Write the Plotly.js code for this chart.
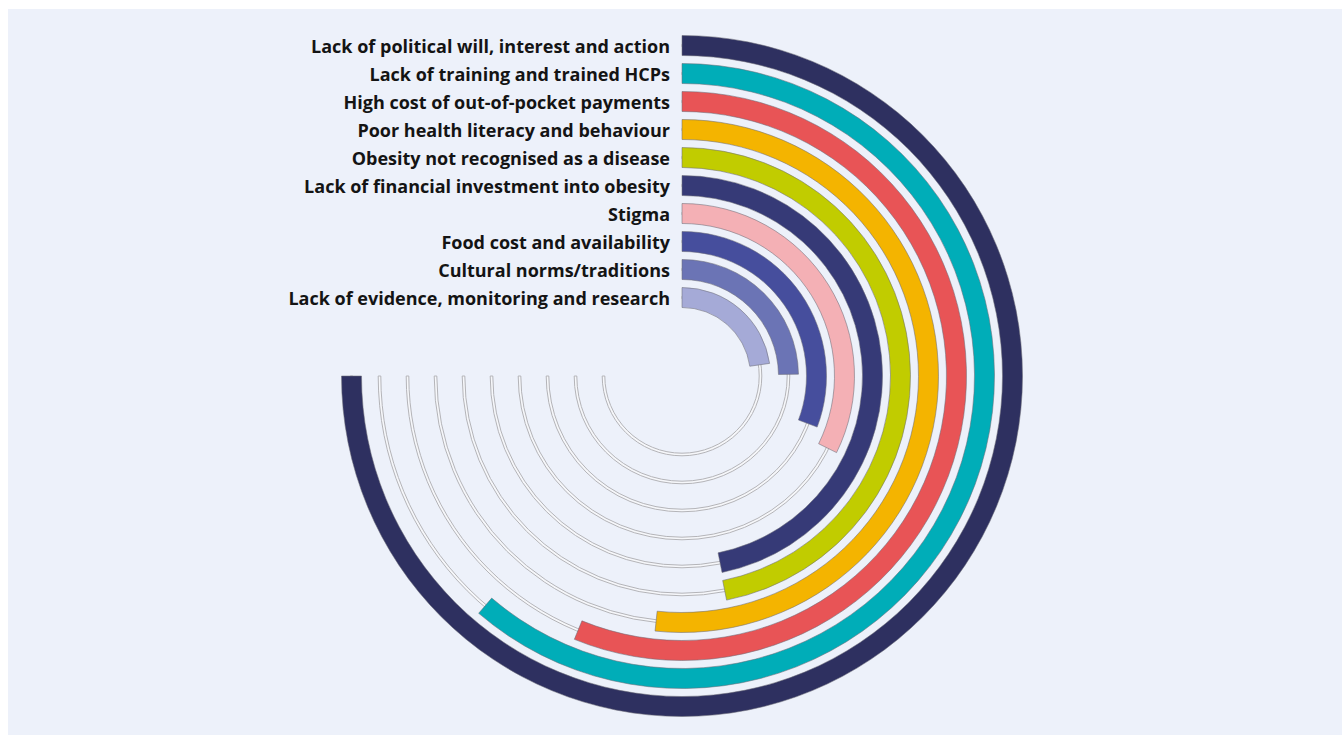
<!DOCTYPE html>
<html>
<head>
<meta charset="utf-8">
<script src="https://cdn.plot.ly/plotly-3.0.1.min.js"></script>
<style>html,body{margin:0;padding:0;background:#fff;}#chart{width:1342px;height:735px;}</style>
</head>
<body>
<div id="chart"></div>
<script>
// Barriers (outer ring first) and their relative scores (max = 100 -> 270 degrees)
const categories = [
  "Lack of political will, interest and action",
  "Lack of training and trained HCPs",
  "High cost of out-of-pocket payments",
  "Poor health literacy and behaviour",
  "Obesity not recognised as a disease",
  "Lack of financial investment into obesity",
  "Stigma",
  "Food cost and availability",
  "Cultural norms/traditions",
  "Lack of evidence, monitoring and research"
];
const scores = [100, 81.7, 74.9, 68.9, 62.5, 62.4, 43.1, 41.0, 33.0, 30.3];
const colors = ["#2e3060", "#00adb8", "#e85456", "#f4b400", "#c1cc00", "#363a77", "#f4b0b5", "#464e9d", "#6b74b5", "#a5aad7"];

const maxScore = 100, maxAngle = 270;
const outerR = 330.5, step = 28, thick = 20, R = 345;
const ringR = categories.map((c, i) => outerR - step * i);
const ang = scores.map(v => v / maxScore * maxAngle);

const tracks = {
  type: "barpolar",
  r: ringR.map(() => 2.6),
  base: ringR.map(r => r - 1.3),
  theta: ringR.map(() => maxAngle / 2),
  width: ringR.map(() => maxAngle),
  marker: {color: "#f6f7fa", line: {color: "#b4b4b8", width: 1}},
  hoverinfo: "skip", showlegend: false
};
const bars = {
  type: "barpolar",
  r: ringR.map(() => thick),
  base: ringR.map(r => r - thick / 2),
  theta: ang.map(a => a / 2),
  width: ang,
  marker: {color: colors, line: {color: "rgba(110,110,120,0.55)", width: 1}},
  hoverinfo: "skip", showlegend: false
};
const labels = {
  type: "scatterpolar",
  mode: "markers+text",
  r: ringR.map(r => r - 2.5),
  theta: ringR.map(() => 0),
  text: categories,
  textposition: "middle left",
  textfont: {family: "'Open Sans', Lato, sans-serif", size: 18, color: "#141414", weight: 700},
  marker: {size: 17.6, opacity: 0},
  hoverinfo: "skip", showlegend: false
};

const W = 1342, H = 735, cx = 682, cy = 376;
const layout = {
  width: W, height: H,
  margin: {l: 0, r: 0, t: 0, b: 0},
  paper_bgcolor: "#ffffff",
  showlegend: false,
  shapes: [{type: "rect", xref: "paper", yref: "paper", x0: 8 / W, x1: 1, y0: 0, y1: (H - 9) / H,
            fillcolor: "#edf1fa", line: {width: 0}, layer: "below"}],
  polar: {
    domain: {x: [(cx - R) / W, (cx + R) / W], y: [(H - cy - R) / H, (H - cy + R) / H]},
    bgcolor: "rgba(0,0,0,0)",
    barmode: "overlay",
    radialaxis: {range: [0, R], visible: false, showgrid: false},
    angularaxis: {direction: "clockwise", rotation: 90, visible: false, showgrid: false}
  }
};
Plotly.newPlot("chart", [tracks, bars, labels], layout, {displayModeBar: false, staticPlot: true});
</script>
</body>
</html>
